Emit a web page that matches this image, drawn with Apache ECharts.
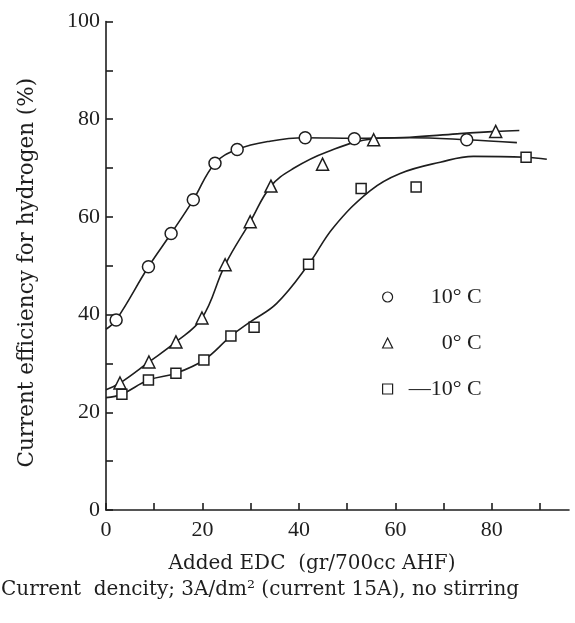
<!DOCTYPE html>
<html>
<head>
<meta charset="utf-8">
<script src="https://cdn.jsdelivr.net/npm/echarts@6/dist/echarts.min.js"></script>
<style>
html,body{margin:0;padding:0;background:#fff;}
#chart{width:575px;height:623px;}
</style>
</head>
<body>
<div id="chart"></div>
<script>
// ---- Data ----
const seriesNames = ['10° C', '0° C', '—10° C'];

// measured points
const pts10X = [2.1, 8.8, 13.5, 18.1, 22.6, 27.2, 41.3, 51.5, 74.8];
const pts10Y = [38.9, 49.8, 56.6, 63.5, 71.0, 73.8, 76.2, 76.0, 75.8];

const pts0X = [2.9, 8.9, 14.5, 19.9, 24.7, 29.9, 34.2, 44.9, 55.5, 80.8];
const pts0Y = [26.0, 30.3, 34.4, 39.3, 50.2, 59.0, 66.3, 70.8, 75.8, 77.5];

const ptsM10X = [3.3, 8.8, 14.5, 20.3, 25.9, 30.7, 42.0, 52.9, 64.3, 87.1];
const ptsM10Y = [23.7, 26.6, 28.0, 30.7, 35.6, 37.4, 50.3, 65.8, 66.1, 72.2];

// fitted curves (as drawn)
const curve10X = [0, 2.1, 8.8, 13.5, 18.1, 22.6, 27.2, 34, 41.3, 51.5, 63, 74.8, 85.2];
const curve10Y = [37.0, 38.9, 49.8, 56.6, 63.5, 71.0, 73.8, 75.5, 76.2, 76.1, 76.2, 75.8, 75.2];

const curve0X = [0, 2.9, 8.9, 14.5, 19.9, 24.7, 29.9, 34.2, 39, 45.8, 55.5, 63, 72.8, 80.8, 85.7];
const curve0Y = [24.6, 26.0, 30.3, 34.4, 39.3, 50.2, 59.0, 66.3, 70.0, 73.3, 76.0, 76.3, 77.0, 77.5, 77.7];

const curveM10X = [0, 3.3, 8.8, 14.5, 20.3, 25.9, 29.9, 35.4, 42.0, 47.2, 54.8, 61, 69.3, 76.2, 87.1, 91.4];
const curveM10Y = [23.0, 23.7, 26.6, 28.0, 30.7, 35.6, 38.5, 42.3, 50.3, 57.9, 65.4, 68.9, 71.2, 72.4, 72.2, 71.8];

// axis ticks / labels
const xTickValues = [0, 10, 20, 30, 40, 50, 60, 70, 80, 90];
const xLabelValues = [0, 20, 40, 60, 80];
const yTickValues = [0, 10, 20, 30, 40, 50, 60, 70, 80, 90, 100];
const yLabelValues = [0, 20, 40, 60, 80, 100];

const xTitle = 'Added EDC  (gr/700cc AHF)';
const yTitle = 'Current efficiency for hydrogen (%)';
const caption = 'Current  dencity; 3A/dm² (current 15A), no stirring';

// ---- build ----
const zip = (xs, ys) => xs.map((x, i) => [x, ys[i]]);
const ink = '#1e1e1e';
const serif = '"Liberation Serif", "Times New Roman", serif';
const serif2 = '"DejaVu Serif", serif';

function curve(name, xs, ys) {
  return {
    name: name + ' fit', type: 'line', data: zip(xs, ys), smooth: 0.4,
    symbol: 'none', silent: true, z: 2,
    lineStyle: { color: ink, width: 1.6 }
  };
}
function pts(name, xs, ys, symbol, size) {
  return {
    name: name, type: 'scatter', data: zip(xs, ys), symbol: symbol,
    symbolSize: size, z: 5,
    itemStyle: { color: '#fff', borderColor: ink, borderWidth: 1.5, opacity: 1 }
  };
}

const chart = echarts.init(document.getElementById('chart'), null, { renderer: 'canvas' });
chart.setOption({
  backgroundColor: '#fff',
  animation: false,
  title: {
    text: caption, left: 1, top: 580, padding: 0,
    textStyle: { fontFamily: serif2, fontSize: 20, fontWeight: 'normal', color: ink }
  },
  grid: { left: 106, right: 6, top: 21.5, bottom: 113, containLabel: false, outerBoundsMode: 'none' },
  legend: {
    data: seriesNames, orient: 'vertical', left: 377, top: 281,
    itemWidth: 10, itemHeight: 10, itemGap: 24,
    formatter: n => '{a|' + n + '}',
    itemStyle: { borderWidth: 1.2 },
    textStyle: {
      color: ink, fontFamily: serif, fontSize: 22,
      rich: { a: { width: 84, align: 'right', fontFamily: serif, fontSize: 22, lineHeight: 24, color: ink } }
    }
  },
  xAxis: {
    type: 'value', min: 0, max: 96,
    name: xTitle, nameLocation: 'middle', nameGap: 44,
    nameTextStyle: { fontFamily: serif2, fontSize: 20, color: ink, padding: [0, 51, 0, 0] },
    axisLine: { show: true, lineStyle: { color: ink, width: 1.6 } },
    axisTick: { show: true, inside: true, length: 7, customValues: xTickValues, lineStyle: { color: ink, width: 1.6 } },
    axisLabel: { customValues: xLabelValues, margin: 9, fontFamily: serif, fontSize: 22, color: ink },
    splitLine: { show: false }
  },
  yAxis: {
    type: 'value', min: 0, max: 100,
    name: yTitle, nameLocation: 'middle', nameGap: 68,
    nameTextStyle: { fontFamily: serif2, fontSize: 21.5, color: ink, padding: [0, 14, 0, 0] },
    axisLine: { show: true, lineStyle: { color: ink, width: 1.6 } },
    axisTick: { show: true, inside: true, length: 7, customValues: yTickValues, lineStyle: { color: ink, width: 1.6 } },
    axisLabel: { customValues: yLabelValues, margin: 6, fontFamily: serif, fontSize: 22, color: ink },
    splitLine: { show: false }
  },
  series: [
    curve(seriesNames[0], curve10X, curve10Y),
    curve(seriesNames[1], curve0X, curve0Y),
    curve(seriesNames[2], curveM10X, curveM10Y),
    pts(seriesNames[0], pts10X, pts10Y, 'circle', 12),
    pts(seriesNames[1], pts0X, pts0Y, 'triangle', 12),
    pts(seriesNames[2], ptsM10X, ptsM10Y, 'rect', 10)
  ]
});
</script>
</body>
</html>
